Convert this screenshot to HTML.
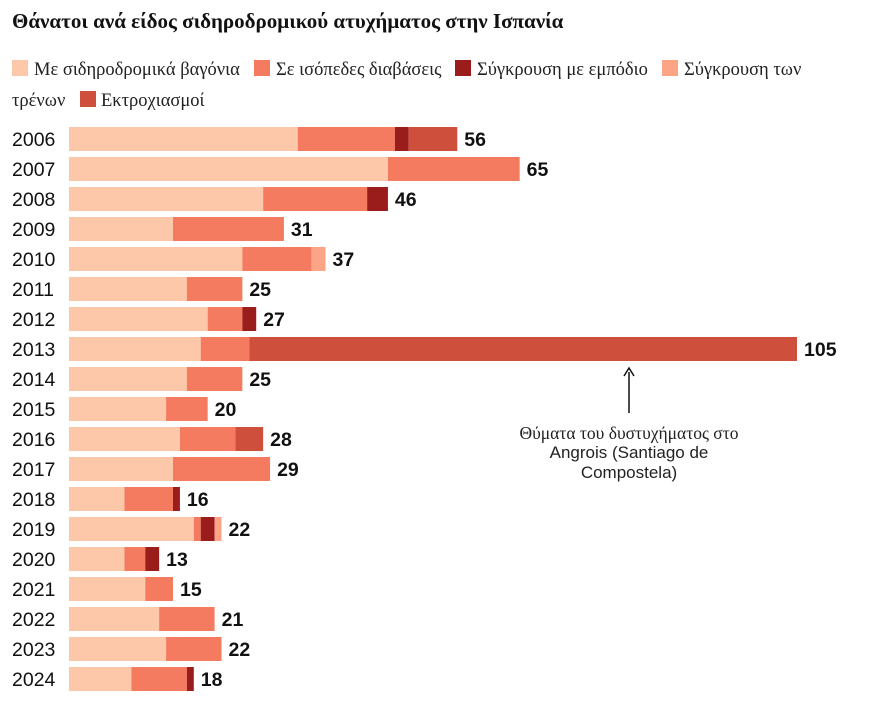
<!DOCTYPE html>
<html><head><meta charset="utf-8"><style>
body{margin:0;background:#fff;width:885px;height:711px;overflow:hidden}
svg{display:block}
</style></head><body>
<svg width="885" height="711">
<text x="12" y="28" font-family="Liberation Serif, serif" font-weight="bold" font-size="21" fill="#111">Θάνατοι ανά είδος σιδηροδρομικού ατυχήματος στην Ισπανία</text>
<g id="legend" font-family="Liberation Serif, serif" font-size="18.5" fill="#222"></g>
<g id="bars"></g>
<g>
<line x1="629" y1="372" x2="629" y2="413" stroke="#111" stroke-width="1.5"/>
<path d="M624,376 L629,368 L634,376" fill="none" stroke="#111" stroke-width="1.5"/>
<text x="629" y="439" text-anchor="middle" font-family="Liberation Serif, serif" font-size="17.5" fill="#222">Θύματα του δυστυχήματος στο</text>
<text x="629" y="458" text-anchor="middle" font-family="Liberation Sans, sans-serif" font-size="17" fill="#222">Angrois (Santiago de</text>
<text x="629" y="478" text-anchor="middle" font-family="Liberation Sans, sans-serif" font-size="17" fill="#222">Compostela)</text>
</g>
</svg>
<script>
const years=["2006","2007","2008","2009","2010","2011","2012","2013","2014","2015","2016","2017","2018","2019","2020","2021","2022","2023","2024"];
const wagons=[33,46,28,15,25,17,20,19,17,14,16,15,8,18,8,11,13,14,9];
const crossings=[14,19,15,16,10,8,5,7,8,6,8,14,7,1,3,4,8,8,8];
const obstacle=[2,0,3,0,0,0,2,0,0,0,0,0,1,2,2,0,0,0,1];
const trainCollision=[0,0,0,0,2,0,0,0,0,0,0,0,0,1,0,0,0,0,0];
const derailments=[7,0,0,0,0,0,0,79,0,0,4,0,0,0,0,0,0,0,0];
const seriesNames=["Με σιδηροδρομικά βαγόνια","Σε ισόπεδες διαβάσεις","Σύγκρουση με εμπόδιο","Σύγκρουση των τρένων","Εκτροχιασμοί"];
const colors=["#fdc8a9","#f47b60","#9b1d1b","#fba486","#cf4f3d"];
const series=[wagons,crossings,obstacle,trainCollision,derailments];
const NS="http://www.w3.org/2000/svg";
const x0=69, unit=(797-69)/105;
const xs=v=>x0+v*unit;
const yc=i=>139+i*30;
const g=document.getElementById('bars');
function mk(t,a){const e=document.createElementNS(NS,t);for(const k in a)e.setAttribute(k,a[k]);return e;}
years.forEach((y,i)=>{
  const t=mk('text',{x:12,y:yc(i)+7,'font-family':'Liberation Sans, sans-serif','font-size':19.5,fill:'#111'});
  t.textContent=y;
  
  
  g.appendChild(t);
  let acc=0;
  series.forEach((s,k)=>{
    if(s[i]>0){
      const r=mk('rect',{x:xs(acc),y:yc(i)-12,width:xs(acc+s[i])-xs(acc),height:24,fill:colors[k]});
      
      
      g.appendChild(r);
    }
    acc+=s[i];
  });
  const v=mk('text',{x:xs(acc)+7,y:yc(i)+7,'font-family':'Liberation Sans, sans-serif','font-size':19.5,'font-weight':'bold',fill:'#111'});
  v.textContent=acc;
  
  
  g.appendChild(v);
});
const lg=document.getElementById('legend');
const pos=[[12,60,34,75,seriesNames[0]],[254,60,276,75,seriesNames[1]],[455,60,477,75,seriesNames[2]],[662,60,684,75,"Σύγκρουση των"],[80,91,101,106,seriesNames[4]]];
pos.forEach((p,k)=>{
  const r=mk('rect',{x:p[0],y:p[1],width:16,height:16,fill:colors[k]});
  
  
  lg.appendChild(r);
  const t=mk('text',{x:p[2],y:p[3]});
  t.textContent=p[4];
  
  
  lg.appendChild(t);
});
const t2=mk('text',{x:12,y:106});
t2.textContent="τρένων";


lg.appendChild(t2);
</script>
</body></html>
